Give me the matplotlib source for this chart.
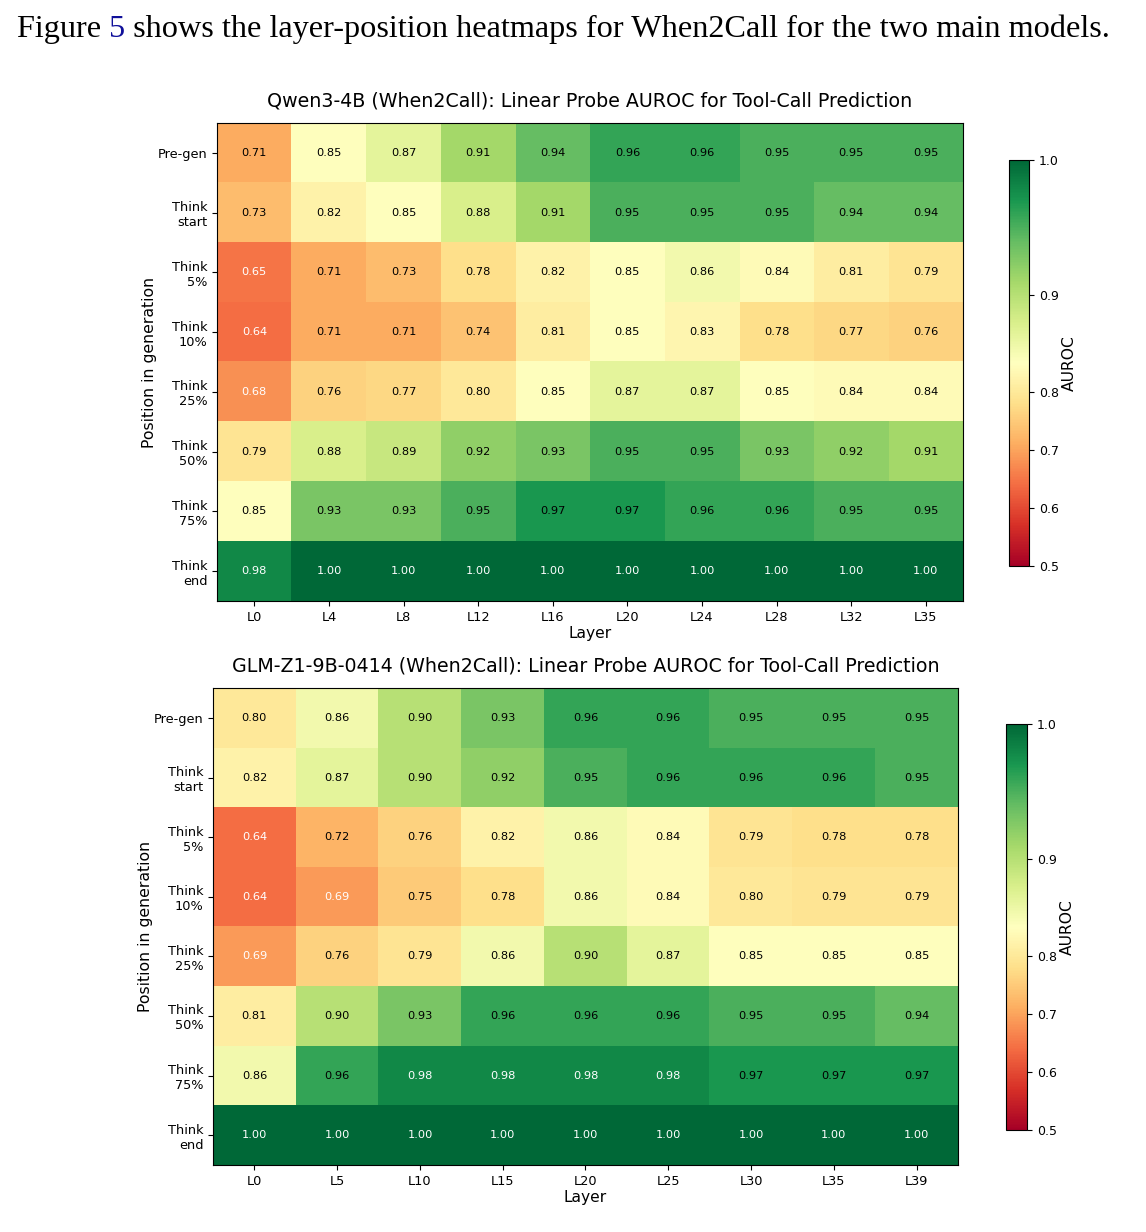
import matplotlib
matplotlib.use("Agg")
import matplotlib.pyplot as plt
from matplotlib.colors import TwoSlopeNorm
import numpy as np

plt.rcParams["font.family"] = ["DejaVu Sans"]

POSITIONS = ["Pre-gen", "Think\nstart", "Think\n5%", "Think\n10%", "Think\n25%",
             "Think\n50%", "Think\n75%", "Think\nend"]

QWEN_LAYERS = ["L0", "L4", "L8", "L12", "L16", "L20", "L24", "L28", "L32", "L35"]
QWEN_AUROC = [
    [0.71, 0.85, 0.87, 0.91, 0.94, 0.96, 0.96, 0.95, 0.95, 0.95],
    [0.73, 0.82, 0.85, 0.88, 0.91, 0.95, 0.95, 0.95, 0.94, 0.94],
    [0.65, 0.71, 0.73, 0.78, 0.82, 0.85, 0.86, 0.84, 0.81, 0.79],
    [0.64, 0.71, 0.71, 0.74, 0.81, 0.85, 0.83, 0.78, 0.77, 0.76],
    [0.68, 0.76, 0.77, 0.80, 0.85, 0.87, 0.87, 0.85, 0.84, 0.84],
    [0.79, 0.88, 0.89, 0.92, 0.93, 0.95, 0.95, 0.93, 0.92, 0.91],
    [0.85, 0.93, 0.93, 0.95, 0.97, 0.97, 0.96, 0.96, 0.95, 0.95],
    [0.98, 1.00, 1.00, 1.00, 1.00, 1.00, 1.00, 1.00, 1.00, 1.00],
]

GLM_LAYERS = ["L0", "L5", "L10", "L15", "L20", "L25", "L30", "L35", "L39"]
GLM_AUROC = [
    [0.80, 0.86, 0.90, 0.93, 0.96, 0.96, 0.95, 0.95, 0.95],
    [0.82, 0.87, 0.90, 0.92, 0.95, 0.96, 0.96, 0.96, 0.95],
    [0.64, 0.72, 0.76, 0.82, 0.86, 0.84, 0.79, 0.78, 0.78],
    [0.64, 0.69, 0.75, 0.78, 0.86, 0.84, 0.80, 0.79, 0.79],
    [0.69, 0.76, 0.79, 0.86, 0.90, 0.87, 0.85, 0.85, 0.85],
    [0.81, 0.90, 0.93, 0.96, 0.96, 0.96, 0.95, 0.95, 0.94],
    [0.86, 0.96, 0.98, 0.98, 0.98, 0.98, 0.97, 0.97, 0.97],
    [1.00, 1.00, 1.00, 1.00, 1.00, 1.00, 1.00, 1.00, 1.00],
]

VMIN, VCENTER, VMAX = 0.5, 0.85, 1.0


def draw_heatmap(fig, ax_rect, cb_rect, data, layers, title):
    data = np.array(data)
    norm = TwoSlopeNorm(vmin=VMIN, vcenter=VCENTER, vmax=VMAX)
    ax = fig.add_axes(ax_rect)
    im = ax.imshow(data, cmap="RdYlGn", norm=norm, aspect="auto")
    ax.set_xticks(range(len(layers)))
    ax.set_xticklabels(layers, fontsize=9.3)
    ax.set_yticks(range(len(POSITIONS)))
    ax.set_yticklabels(POSITIONS, fontsize=9.3)
    ax.set_xlabel("Layer", fontsize=11.2, labelpad=2)
    ax.set_ylabel("Position in generation", fontsize=11.3, labelpad=0.5)
    ax.set_title(title, fontsize=13.7, pad=12)
    for i in range(data.shape[0]):
        for j in range(data.shape[1]):
            v = data[i, j]
            color = "white" if (v < 0.70 or v > 0.975) else "black"
            ax.text(j, i, f"{v:.2f}", ha="center", va="center",
                    fontsize=8.2, color=color)
    cax = fig.add_axes(cb_rect)
    cb = fig.colorbar(im, cax=cax)
    cb.set_ticks([0.5, 0.6, 0.7, 0.8, 0.9, 1.0])
    cb.ax.tick_params(labelsize=9)
    cb.set_label("AUROC", fontsize=11.2, labelpad=2)
    return ax


fig = plt.figure(figsize=(11.46, 12.32), dpi=100)

draw_heatmap(fig, [0.1894, 0.5122, 0.651, 0.388], [0.8805, 0.5406, 0.0175, 0.3295],
             QWEN_AUROC, QWEN_LAYERS,
             "Qwen3-4B (When2Call): Linear Probe AUROC for Tool-Call Prediction")
draw_heatmap(fig, [0.1859, 0.0544, 0.650, 0.387], [0.8778, 0.0828, 0.0183, 0.3295],
             GLM_AUROC, GLM_LAYERS,
             "GLM-Z1-9B-0414 (When2Call): Linear Probe AUROC for Tool-Call Prediction")

# caption line above the figure, with the figure number as a link colour
renderer = fig.canvas.get_renderer()
parts = [("Figure ", "black"), ("5", "#10109a"),
         (" shows the layer-position heatmaps for When2Call for the two main models.", "black")]
x = 17
y = 1232 - 37
for txt, col in parts:
    t = fig.text(x / 1146, y / 1232, txt, fontsize=23.2, color=col,
                 family="Liberation Serif", ha="left", va="baseline")
    x += t.get_window_extent(renderer).width

fig.savefig("out.png", dpi=100)
